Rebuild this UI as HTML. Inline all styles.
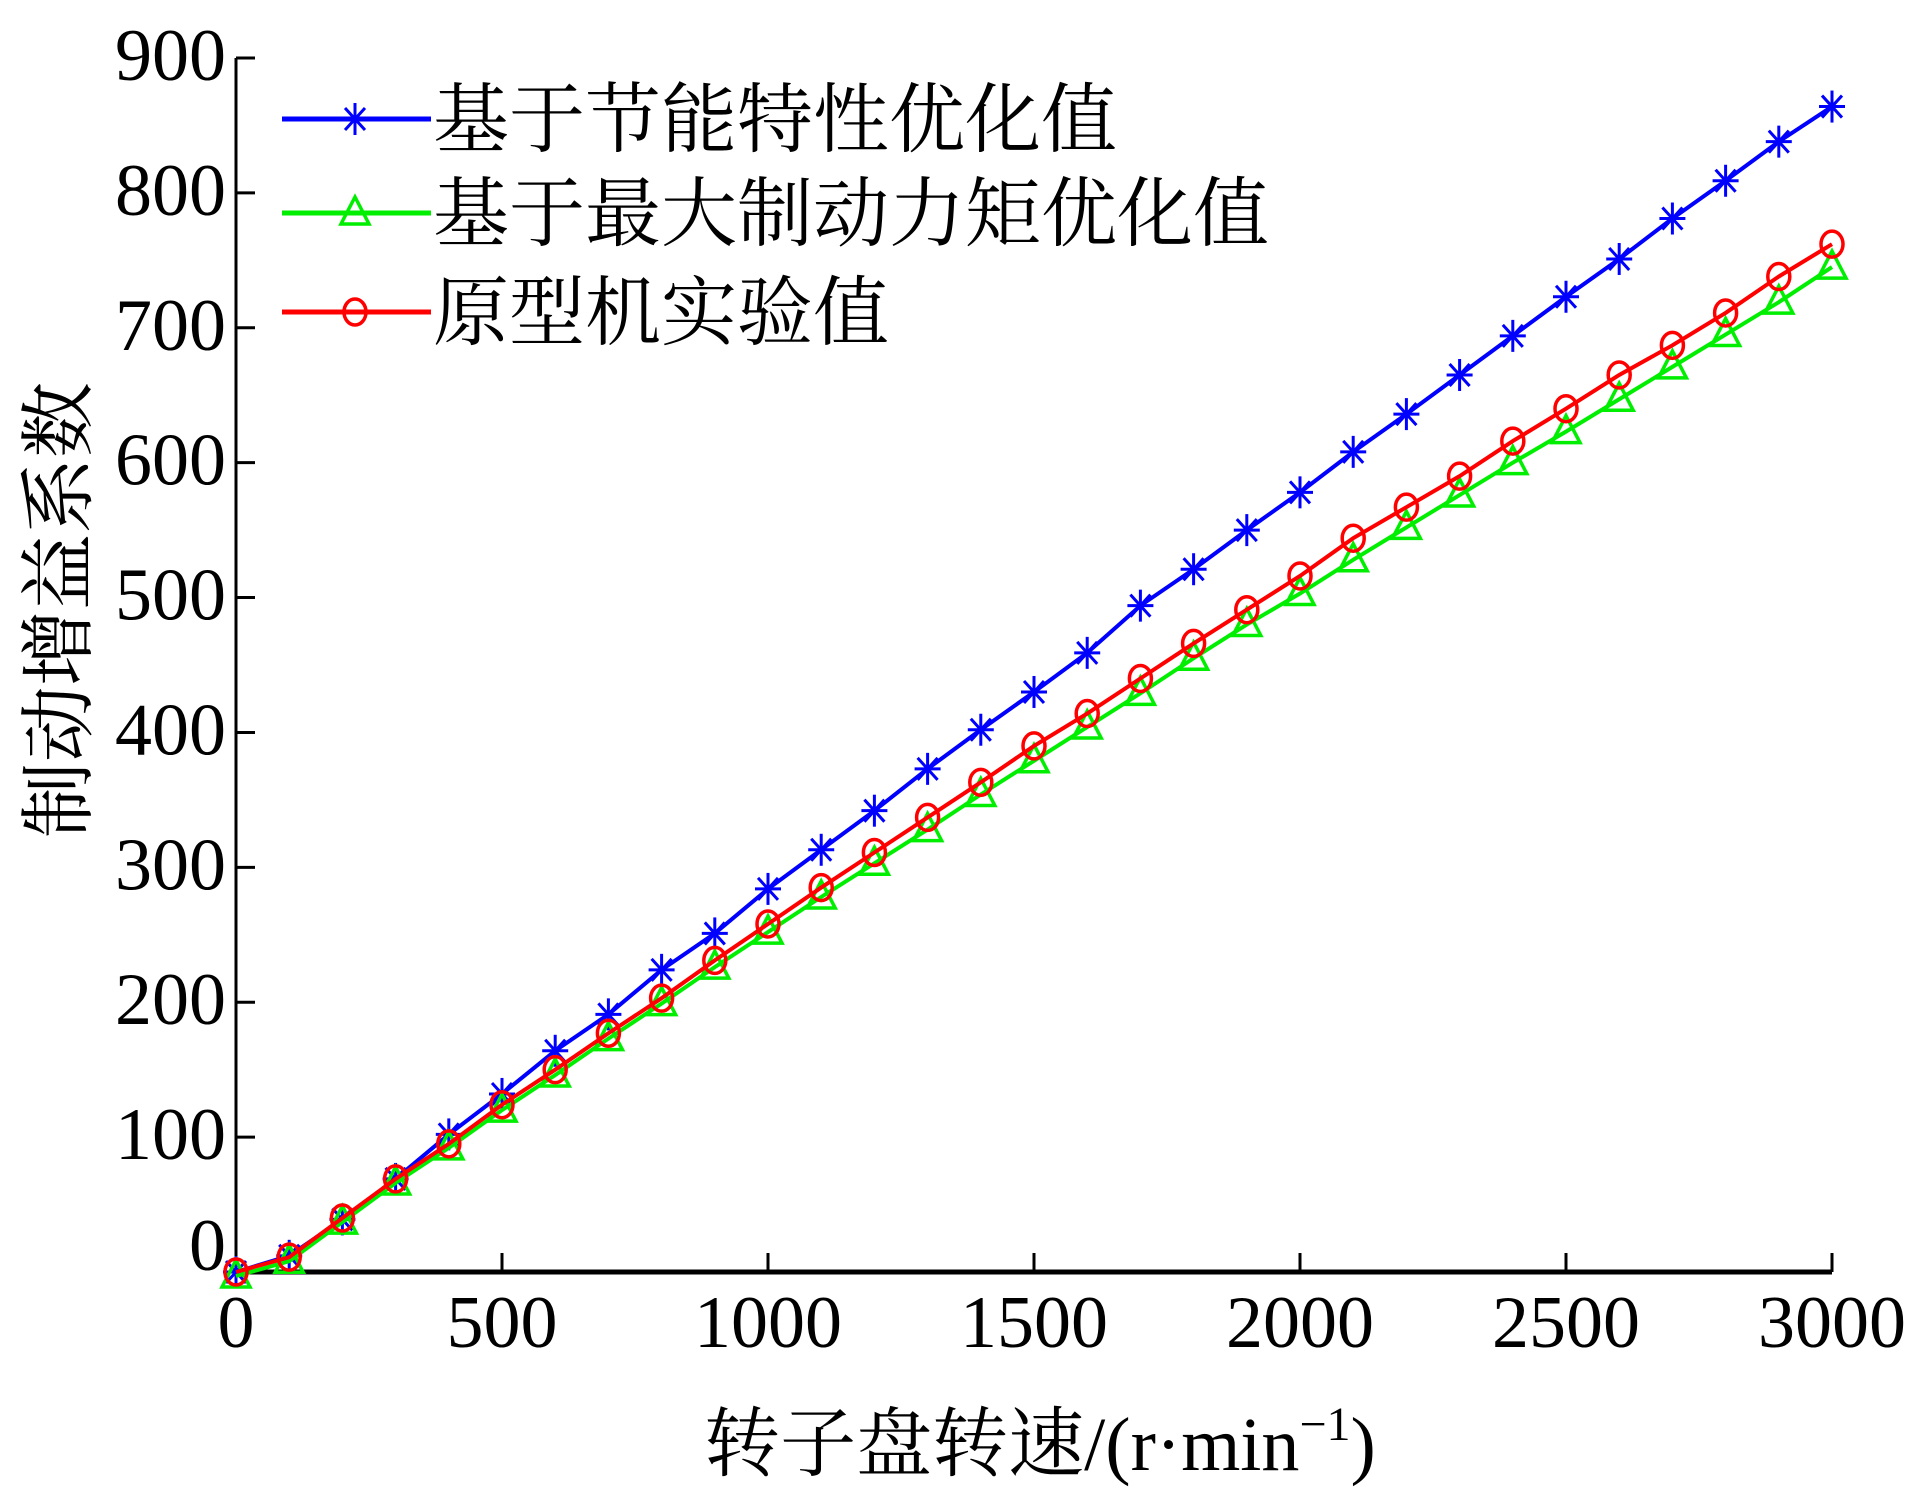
<!DOCTYPE html>
<html><head><meta charset="utf-8"><style>
body{margin:0;background:#fff}
svg{display:block}
text{font-family:"Liberation Serif","Noto Serif CJK SC",serif;fill:#000}
</style></head><body>
<svg id="chart" width="1909" height="1492" viewBox="0 0 1909 1492" xmlns="http://www.w3.org/2000/svg">
<g id="axes"></g>
<g id="series"></g>
<g id="legend"></g>
<text x="1040" y="1470" font-size="76" text-anchor="middle">转子盘转速/(r·min<tspan dy="-30" font-size="48">−1</tspan><tspan dy="30">)</tspan></text>
<text transform="translate(85,610) rotate(-90)" font-size="76" text-anchor="middle">制动增益系数</text>
</svg>
<script>
const xValues=[0,100,200,300,400,500,600,700,800,900,1000,1100,1200,1300,1400,1500,1600,1700,1800,1900,2000,2100,2200,2300,2400,2500,2600,2700,2800,2900,3000];
const blueValues=[0,12,39,69,102,132,164,191,224,251,284,313,342,373,402,430,459,494,521,550,578,608,636,665,694,723,751,781,809,838,864];
const greenValues=[-3,8,37,66,92,120,146,173,199,226,252,278,303,328,354,379,404,429,455,480,503,528,552,576,600,623,647,671,695,719,745];
const redValues=[0,11,40,69,95,124,150,177,203,231,258,285,311,337,363,390,414,440,466,491,516,544,567,590,616,640,665,687,711,738,762];
const xTicks=[0,500,1000,1500,2000,2500,3000];
const yTicks=[0,100,200,300,400,500,600,700,800,900];
const legendLabels=["基于节能特性优化值","基于最大制动力矩优化值","原型机实验值"];
const NS="http://www.w3.org/2000/svg";
const X0=236,X1=1832,Y0=1272,Y1=58;
function xs(v){return X0+(v/3000)*(X1-X0);}
function ys(v){return Y0-(v/900)*(Y0-Y1);}
function mk(tag,attrs,parent){const e=document.createElementNS(NS,tag);for(const k in attrs)e.setAttribute(k,attrs[k]);parent.appendChild(e);return e;}
const axes=document.getElementById('axes');
let l=mk('line',{x1:X0,y1:Y0+2,x2:X0,y2:Y1,stroke:'#000','stroke-width':3},axes);


l=mk('line',{x1:X0-2,y1:Y0,x2:X1,y2:Y0,stroke:'#000','stroke-width':5},axes);


xTicks.forEach(t=>{
 const tk=mk('line',{x1:xs(t),y1:Y0,x2:xs(t),y2:Y0-19,stroke:'#000','stroke-width':3},axes);
 
 
 const tx=mk('text',{x:xs(t),y:Y0+75,'font-size':74,'text-anchor':'middle'},axes);
 tx.textContent=t;
 
 
});
yTicks.forEach(t=>{
 const tk=mk('line',{x1:X0,y1:ys(t),x2:X0+19,y2:ys(t),stroke:'#000','stroke-width':3},axes);
 
 
 const tx=mk('text',{x:226,y:ys(t)+(t===0?-2:22),'font-size':74,'text-anchor':'end'},axes);
 tx.textContent=t;
 
 
});
function marker(type,cx,cy,color,parent){
 let g;
 if(type==='star'){
  g=mk('g',{stroke:color,'stroke-width':3},parent);
  mk('line',{x1:cx-13,y1:cy,x2:cx+13,y2:cy},g);
  mk('line',{x1:cx,y1:cy-16,x2:cx,y2:cy+16},g);
  mk('line',{x1:cx-10,y1:cy-11,x2:cx+10,y2:cy+11},g);
  mk('line',{x1:cx-10,y1:cy+11,x2:cx+10,y2:cy-11},g);
 }else if(type==='tri'){
  g=mk('polygon',{points:`${cx},${cy-16} ${cx-14},${cy+11} ${cx+14},${cy+11}`,fill:'none',stroke:color,'stroke-width':3.5},parent);
 }else{
  g=mk('ellipse',{cx:cx,cy:cy,rx:11,ry:13,fill:'none',stroke:color,'stroke-width':3.5},parent);
 }
 return g;
}
const ser=document.getElementById('series');
const defs=[[blueValues,'#0000ff','star','series-energy-saving'],[greenValues,'#00ee00','tri','series-max-torque'],[redValues,'#ff0000','circ','series-prototype']];
defs.forEach(([vals,color,type,name])=>{
 const g=mk('g',{},ser);
 
 
 const p=mk('polyline',{points:vals.map((v,i)=>xs(xValues[i])+','+ys(v)).join(' '),fill:'none',stroke:color,'stroke-width':4},g);
 
 
 vals.forEach((v,i)=>{
  const m=marker(type,xs(xValues[i]),ys(v),color,g);
  
  
 });
});
const leg=document.getElementById('legend');
const legY=[119,213,312];
defs.forEach(([vals,color,type,name],i)=>{
 const g=mk('g',{},leg);
 
 
 mk('line',{x1:282,y1:legY[i],x2:431,y2:legY[i],stroke:color,'stroke-width':5},g);
 marker(type,355,legY[i],color,g);
 const t=mk('text',{x:433,y:legY[i]+27,'font-size':76},g);
 t.textContent=legendLabels[i];
});
</script>
</body></html>
